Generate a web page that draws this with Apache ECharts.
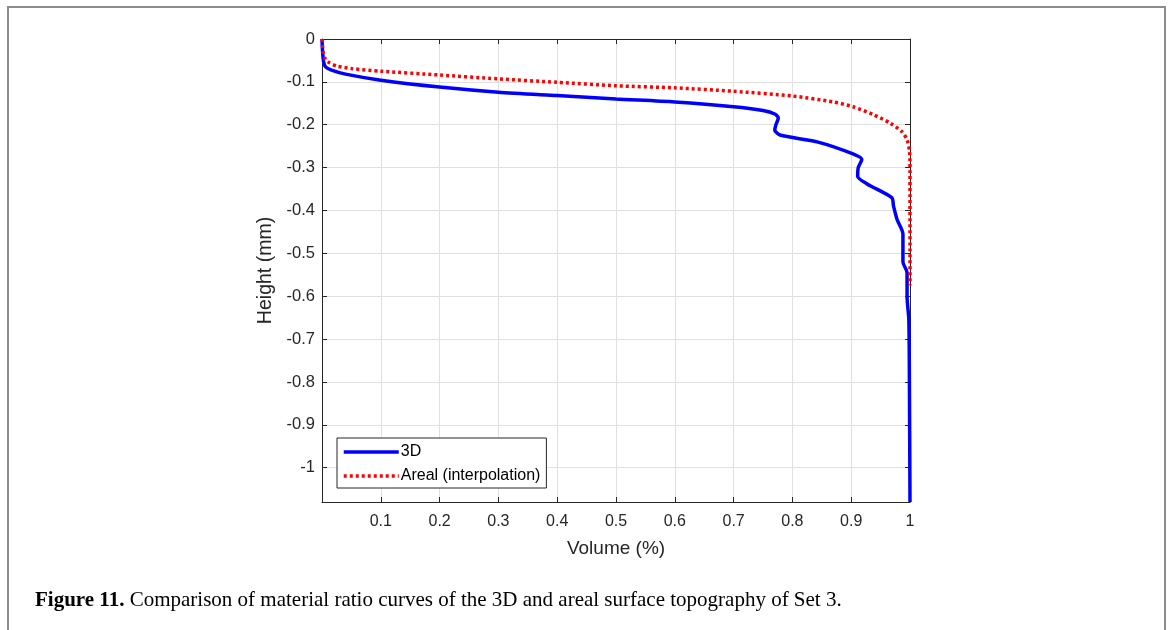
<!DOCTYPE html>
<html>
<head>
<meta charset="utf-8">
<script src="https://cdn.jsdelivr.net/npm/echarts@6/dist/echarts.min.js"></script>
<style>
html,body{margin:0;padding:0;background:#fff;}
#chart{width:1171px;height:630px;}
</style>
</head>
<body>
<div id="chart"></div>
<script>
// Volume (%) / Height (mm)
const vol3D = [0, 0.001, 0.003, 0.006, 0.015, 0.04, 0.1, 0.2, 0.3, 0.4, 0.5, 0.6, 0.7, 0.75, 0.770, 0.776, 0.772, 0.770, 0.779, 0.842, 0.903, 0.918, 0.912, 0.911, 0.927, 0.969, 0.972, 0.978, 0.988, 0.988, 0.995, 0.995, 0.998, 0.999, 1.0];
const height3D = [0, -0.03, -0.055, -0.065, -0.072, -0.082, -0.096, -0.112, -0.124, -0.132, -0.140, -0.147, -0.158, -0.167, -0.175, -0.184, -0.200, -0.212, -0.224, -0.240, -0.268, -0.281, -0.300, -0.320, -0.338, -0.370, -0.390, -0.421, -0.455, -0.520, -0.545, -0.600, -0.655, -0.800, -1.08];
const volAreal = [0, 0.002, 0.006, 0.012, 0.025, 0.05, 0.1, 0.2, 0.3, 0.4, 0.5, 0.6, 0.7, 0.8, 0.87, 0.903, 0.937, 0.966, 0.986, 0.995, 0.999, 1.0, 1.0];
const heightAreal = [0, -0.03, -0.048, -0.055, -0.063, -0.069, -0.075, -0.084, -0.093, -0.101, -0.109, -0.114, -0.122, -0.133, -0.147, -0.158, -0.176, -0.196, -0.216, -0.235, -0.26, -0.29, -0.575];
const seriesNames = ['3D', 'Areal (interpolation)'];
const xTicks = [0, 0.1, 0.2, 0.3, 0.4, 0.5, 0.6, 0.7, 0.8, 0.9, 1];
const yTickLabels = ['0', '-0.1', '-0.2', '-0.3', '-0.4', '-0.5', '-0.6', '-0.7', '-0.8', '-0.9', '-1'];
const captionBold = 'Figure 11.';
const captionText = ' Comparison of material ratio curves of the 3D and areal surface topography of Set 3.';

const chart = echarts.init(document.getElementById('chart'), null, {renderer: 'canvas'});
const axisColor = '#262626';
const gridColor = '#e0e0e0';
const sans = '"Liberation Sans", Arial, Helvetica, sans-serif';
const serif = '"Liberation Serif", "Times New Roman", serif';

// Depth axis is drawn inverted: plotted value = -height
const pairs = (xs, hs) => xs.map((x, i) => [x, -hs[i]]);
const yLabel = v => {
  const idx = Math.round(v * 10);
  if (Math.abs(v * 10 - idx) > 1e-6 || idx < 0 || idx >= yTickLabels.length) return '';
  return yTickLabels[idx];
};
const xLabel = v => {
  const i = xTicks.findIndex(t => Math.abs(t - v) < 1e-9);
  return (i <= 0) ? '' : String(xTicks[i]);
};

const option = {
  animation: false,
  backgroundColor: '#fff',
  grid: {left: 322, right: 261, top: 39, bottom: 128, containLabel: false},
  xAxis: [{
    type: 'value', min: 0, max: 1, interval: 0.1, position: 'bottom',
    name: 'Volume (%)', nameLocation: 'middle', nameGap: 37,
    nameTextStyle: {fontFamily: sans, fontSize: 19, color: axisColor},
    axisLine: {show: true, onZero: false, lineStyle: {color: axisColor, width: 1}},
    axisTick: {show: true, inside: true, length: 5, lineStyle: {color: axisColor}},
    axisLabel: {formatter: xLabel, fontFamily: sans, fontSize: 16, color: axisColor, margin: 12, showMinLabel: false},
    splitLine: {show: true, lineStyle: {color: gridColor, width: 1}}
  }, {
    type: 'value', min: 0, max: 1, interval: 0.1, position: 'top',
    axisLine: {show: true, onZero: false, lineStyle: {color: axisColor, width: 1}},
    axisTick: {show: true, inside: true, length: 5, lineStyle: {color: axisColor}},
    axisLabel: {show: false}, splitLine: {show: false}
  }],
  yAxis: [{
    type: 'value', inverse: true, min: 0, max: 1.08, interval: 0.1, position: 'left',
    name: 'Height (mm)', nameLocation: 'middle', nameGap: 43, nameRotate: 90,
    nameTextStyle: {fontFamily: sans, fontSize: 19.5, color: axisColor},
    axisLine: {show: true, onZero: false, lineStyle: {color: axisColor, width: 1}},
    axisTick: {show: true, inside: true, length: 5, lineStyle: {color: axisColor}},
    axisLabel: {formatter: yLabel, fontFamily: sans, fontSize: 16.5, color: axisColor, margin: 7, showMaxLabel: false},
    splitLine: {show: true, lineStyle: {color: gridColor, width: 1}}
  }, {
    type: 'value', inverse: true, min: 0, max: 1.08, interval: 0.1, position: 'right',
    axisLine: {show: true, onZero: false, lineStyle: {color: axisColor, width: 1}},
    axisTick: {show: true, inside: true, length: 5, lineStyle: {color: axisColor}},
    axisLabel: {show: false}, splitLine: {show: false}
  }],
  legend: {
    orient: 'vertical', left: 337, top: 438,
    itemWidth: 55, itemHeight: 12, itemGap: 8,
    padding: [6, 6, 4, 5],
    backgroundColor: '#fff', borderColor: axisColor, borderWidth: 1, borderRadius: 0,
    itemStyle: {color: 'transparent', borderWidth: 0, opacity: 0},
    lineStyle: {width: 3.5},
    textStyle: {fontFamily: sans, fontSize: 16, color: '#000', padding: [0, 0, 0, -3]},
    data: seriesNames
  },
  series: [{
    name: seriesNames[0], type: 'line', xAxisIndex: 0, yAxisIndex: 0,
    data: pairs(vol3D, height3D), symbol: 'none', smooth: 0.25,
    lineStyle: {color: '#0000ff', width: 3.5}, itemStyle: {color: '#0000ff'}, z: 3
  }, {
    name: seriesNames[1], type: 'line', xAxisIndex: 0, yAxisIndex: 0,
    data: pairs(volAreal, heightAreal), symbol: 'none', smooth: 0.25,
    lineStyle: {color: '#ff0000', width: 3.5, type: [3, 3], cap: 'butt'}, itemStyle: {color: '#ff0000'}, z: 4
  }],
  graphic: [{
    type: 'polyline', silent: true,
    shape: {points: [[8, 640], [8, 7], [1165, 7], [1165, 640]]},
    style: {stroke: '#8c8c8c', lineWidth: 2, fill: null}
  }, {
    type: 'text', left: 35, top: 590, silent: true,
    style: {
      text: '{b|' + captionBold + '}{n|' + captionText + '}',
      rich: {
        b: {fontFamily: serif, fontWeight: 'bold', fontSize: 21, fill: '#000'},
        n: {fontFamily: serif, fontSize: 21, fill: '#000'}
      }
    }
  }]
};
chart.setOption(option);
</script>
</body>
</html>
